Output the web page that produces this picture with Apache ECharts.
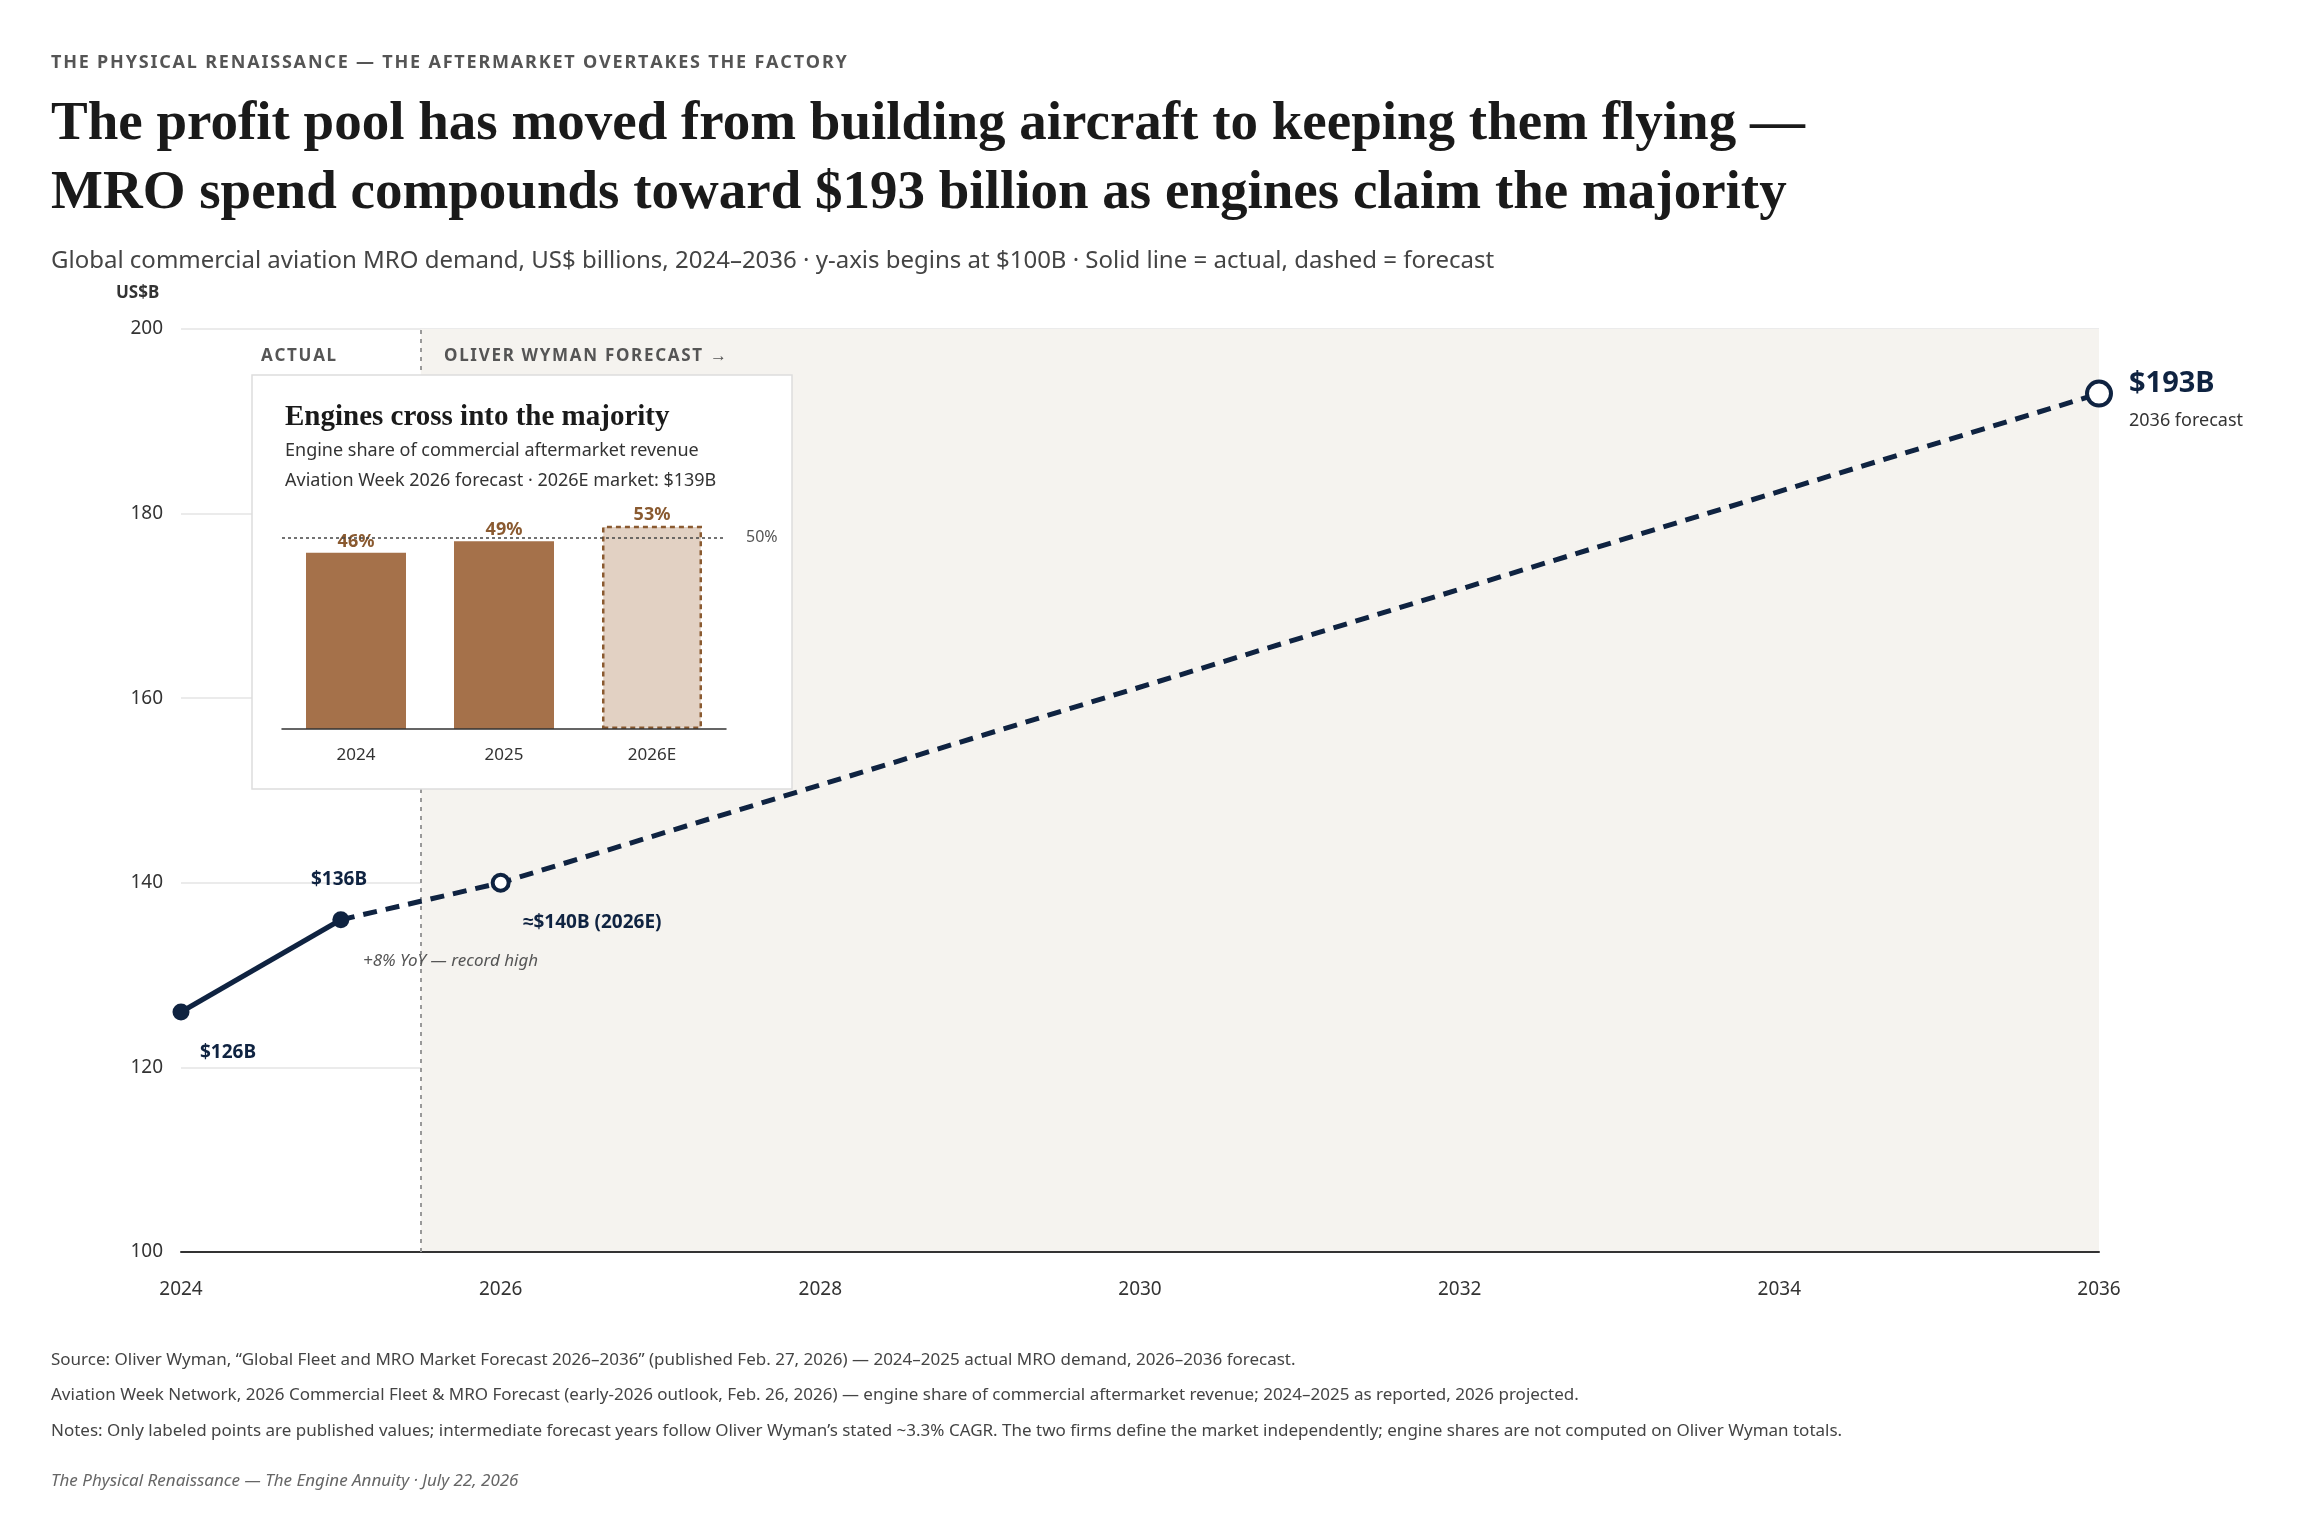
<!DOCTYPE html>
<html>
<head>
<meta charset="utf-8">
<script src="https://cdn.jsdelivr.net/npm/echarts@6/dist/echarts.min.js"></script>
<style>
  html, body { margin: 0; padding: 0; background: #fff; }
  #chart { width: 2310px; height: 1524px; }
</style>
</head>
<body>
<div id="chart"></div>
<script>
// MRO demand, US$ billions (labelled points only)
var actualPoints = [[2024, 126], [2025, 136]];
var forecastPoints = [[2025, 136], [2026, 140], [2036, 193]];
// engine share of aftermarket revenue (%)
var shareYears = ['2024', '2025', '2026E'];
var shareValues = [46, 49, 53];

var navy = '#0f2341';
var brown = '#a5714a';
var sans = '"Noto Sans", sans-serif';
var serif = '"Liberation Serif", "DejaVu Serif", serif';

var chart = echarts.init(document.getElementById('chart'));

function txt(x, y, text, size, opts) {
  opts = opts || {};
  return {
    type: 'text', x: x, y: y, z: 20,
    style: {
      text: text, fill: opts.color || '#333',
      font: (opts.style || '') + ' ' + (opts.weight || 'normal') + ' ' + size + 'px ' + (opts.family || sans),
      textAlign: opts.align || 'left', textVerticalAlign: 'middle'
    }
  };
}

var option = {
  backgroundColor: '#fff',
  animation: false,
  grid: [
    { left: 181, right: 211, top: 329, bottom: 272 },
    { left: 282, width: 444, top: 499, height: 230 }
  ],
  xAxis: [{
    gridIndex: 0, type: 'value', min: 2024, max: 2036, interval: 2, z: 3,
    axisLine: { lineStyle: { color: '#333', width: 2 } },
    axisTick: { show: false }, splitLine: { show: false },
    axisLabel: { color: '#333', fontSize: 19, fontFamily: sans, margin: 28, formatter: function (v) { return String(v); } }
  }, {
    gridIndex: 1, type: 'category', data: shareYears, z: 12,
    axisLine: { lineStyle: { color: '#333', width: 1.5 } },
    axisTick: { show: false },
    axisLabel: { color: '#333', fontSize: 17, fontFamily: sans, margin: 18 }
  }],
  yAxis: [{
    gridIndex: 0, type: 'value', min: 100, max: 200, interval: 20,
    axisLine: { show: false }, axisTick: { show: false },
    splitLine: { lineStyle: { color: '#e4e4e4', width: 1.5 } },
    axisLabel: { color: '#333', fontSize: 19, fontFamily: sans, margin: 18 }
  }, {
    gridIndex: 1, type: 'value', min: 0, max: 60, show: false
  }],
  series: [{
    type: 'line', xAxisIndex: 0, yAxisIndex: 0, data: actualPoints, z: 6,
    symbol: 'circle', symbolSize: 17,
    itemStyle: { color: navy },
    lineStyle: { color: navy, width: 5 },
    markArea: {
      silent: true, z: 1,
      itemStyle: { color: '#f5f3ef' },
      data: [[{ xAxis: 2025.5, yAxis: 100 }, { xAxis: 2036, yAxis: 200 }]]
    },
    markLine: {
      silent: true, symbol: 'none', label: { show: false },
      lineStyle: { color: '#999', type: [4, 5], width: 2 },
      data: [{ xAxis: 2025.5 }]
    }
  }, {
    type: 'line', xAxisIndex: 0, yAxisIndex: 0, data: forecastPoints, z: 5,
    symbol: 'circle',
    symbolSize: function (v) { return v[0] === 2036 ? 24 : (v[0] === 2026 ? 16 : 0); },
    itemStyle: { color: '#fff', borderColor: navy, borderWidth: 4 },
    lineStyle: { color: navy, width: 5, type: [14, 9] }
  }, {
    type: 'bar', xAxisIndex: 1, yAxisIndex: 1, z: 10, barWidth: 100,
    data: shareValues.map(function (v, i) {
      return i === 2
        ? { value: v, itemStyle: { color: '#e2d1c3', borderColor: '#8a5a30', borderWidth: 2.5, borderType: [5, 4] } }
        : { value: v, itemStyle: { color: brown } };
    }),
    label: {
      show: true, position: 'top', distance: 2, formatter: '{c}%',
      color: '#8a5a30', fontWeight: 'bold', fontSize: 18, fontFamily: sans
    },
    markLine: {
      silent: true, symbol: 'none', z: 12,
      lineStyle: { color: '#444', type: [3, 3], width: 1.5 },
      label: { position: 'end', formatter: '50%', color: '#555', fontSize: 16, fontFamily: sans, distance: 20 },
      data: [{ yAxis: 50 }]
    }
  }],
  graphic: [
    { type: 'rect', z: 8, shape: { x: 252, y: 375, width: 540, height: 414 },
      style: { fill: '#fff', stroke: '#dddddd', lineWidth: 1.5 } },
    txt(51, 63, 'THE PHYSICAL RENAISSANCE — THE AFTERMARKET OVERTAKES THE FACTORY'.split('').join('\u200A'), 18, { color: '#555', weight: 'bold' }),
    txt(51, 125, 'The profit pool has moved from building aircraft to keeping them flying —', 55, { color: '#1a1a1a', weight: 'bold', family: serif }),
    txt(51, 194, 'MRO spend compounds toward $193 billion as engines claim the majority', 55, { color: '#1a1a1a', weight: 'bold', family: serif }),
    txt(51, 261, 'Global commercial aviation MRO demand, US$ billions, 2024–2036 · y-axis begins at $100B · Solid line = actual, dashed = forecast', 24, { color: '#444' }),
    txt(116, 293, 'US$B', 17, { color: '#333', weight: 'bold' }),
    txt(261, 356, 'A C T U A L'.replace(/ /g, '\u200A'), 17, { color: '#555', weight: 'bold' }),
    txt(444, 356, 'OLIVER WYMAN FORECAST →'.split('').join('\u200A'), 17, { color: '#555', weight: 'bold' }),
    txt(2129, 384, '$193B', 29, { color: navy, weight: 'bold' }),
    txt(2129, 421, '2036 forecast', 18, { color: '#333' }),
    txt(311, 880, '$136B', 19, { color: navy, weight: 'bold' }),
    txt(200, 1053, '$126B', 19, { color: navy, weight: 'bold' }),
    txt(523, 923, '≈$140B (2026E)', 19, { color: navy, weight: 'bold' }),
    txt(363, 961, '+8% YoY — record high', 17, { color: '#555', style: 'italic' }),
    txt(285, 418, 'Engines cross into the majority', 29, { color: '#1a1a1a', weight: 'bold', family: serif }),
    txt(285, 451, 'Engine share of commercial aftermarket revenue', 18, { color: '#333' }),
    txt(285, 481, 'Aviation Week 2026 forecast · 2026E market: $139B', 18, { color: '#333' }),
    txt(51, 1360, 'Source: Oliver Wyman, “Global Fleet and MRO Market Forecast 2026–2036” (published Feb. 27, 2026) — 2024–2025 actual MRO demand, 2026–2036 forecast.', 17, { color: '#444' }),
    txt(51, 1395, 'Aviation Week Network, 2026 Commercial Fleet & MRO Forecast (early-2026 outlook, Feb. 26, 2026) — engine share of commercial aftermarket revenue; 2024–2025 as reported, 2026 projected.', 17, { color: '#444' }),
    txt(51, 1431, 'Notes: Only labeled points are published values; intermediate forecast years follow Oliver Wyman’s stated ~3.3% CAGR. The two firms define the market independently; engine shares are not computed on Oliver Wyman totals.', 17, { color: '#444' }),
    txt(51, 1481, 'The Physical Renaissance — The Engine Annuity · July 22, 2026', 17, { color: '#666', style: 'italic' })
  ]
};
chart.setOption(option);
</script>
</body>
</html>
